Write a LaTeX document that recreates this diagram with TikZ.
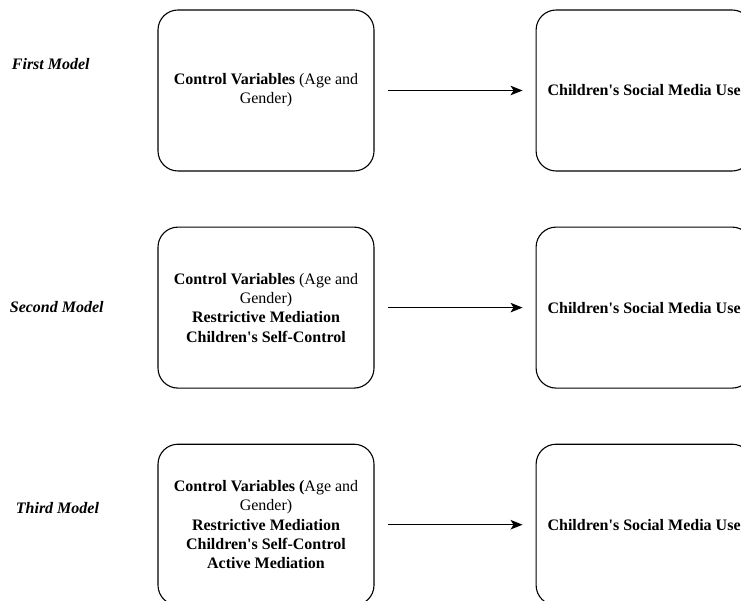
\documentclass[tikz,border=0pt]{standalone}
\usepackage{fontspec}
\setmainfont{Liberation Serif}[Ligatures=TeXOff]
\usepackage{tikz}
\usetikzlibrary{arrows.meta}
\usetikzlibrary{positioning}
\tikzset{box/.style={draw,rounded corners=20pt,line width=1.1pt,minimum width=216pt,
                     minimum height=161pt,align=center,font=\fontsize{16}{19.3}\selectfont}}
\tikzset{model/.style={anchor=west,font=\fontsize{16}{19}\selectfont\bfseries\itshape}}

\begin{document}
\begin{tikzpicture}[->,>={Stealth[length=12pt,width=9.5pt,inset=3pt]},line width=1.1pt,
                    node distance=55pt and 161pt]
   \useasboundingbox (0,0) rectangle (741pt,-601pt);
   \node[box] (Ctrl1) at (266pt,-90.5pt) {\textbf{Control Variables} (Age and\\ Gender)};
   \node[box] (Ctrl2) [below=of Ctrl1] {\textbf{Control Variables} (Age and\\ Gender)\\
      \textbf{Restrictive Mediation}\\ \textbf{Children's Self-Control}};
   \node[box] (Ctrl3) [below=of Ctrl2] {\textbf{Control Variables (}Age and\\ Gender)\\
      \textbf{Restrictive Mediation}\\ \textbf{Children's Self-Control}\\ \textbf{Active Mediation}};
   \node[box] (Use1) [right=of Ctrl1] {\textbf{Children's Social Media Use}};
   \node[box] (Use2) [right=of Ctrl2] {\textbf{Children's Social Media Use}};
   \node[box] (Use3) [right=of Ctrl3] {\textbf{Children's Social Media Use}};

   \node[model] (First)  at (8pt,-64pt)  {First Model};
   \node[model] (Second) at (6pt,-307pt)  {Second Model};
   \node[model] (Third)  at (12pt,-508pt) {Third Model};

   \draw ([xshift=13pt]Ctrl1.east) -- ([xshift=-13pt]Use1.west);
   \draw ([xshift=13pt]Ctrl2.east) -- ([xshift=-13pt]Use2.west);
   \draw ([xshift=13pt]Ctrl3.east) -- ([xshift=-13pt]Use3.west);
\end{tikzpicture}
\end{document}
